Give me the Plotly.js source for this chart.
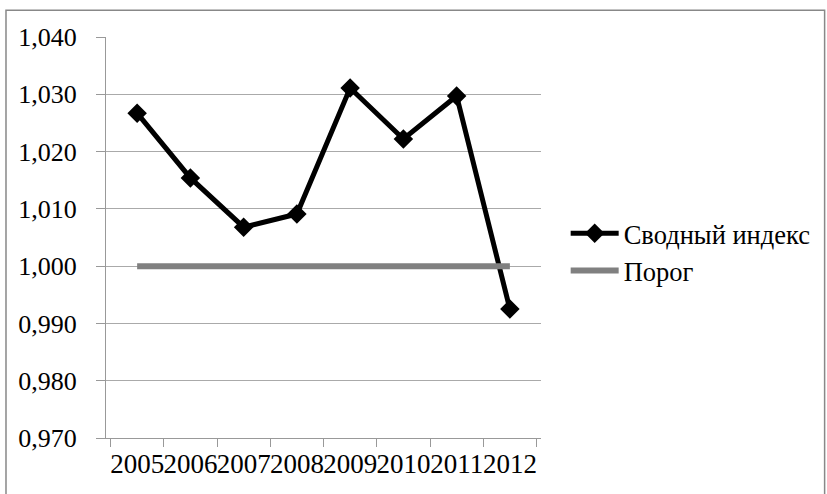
<!DOCTYPE html>
<html><head><meta charset="utf-8">
<script src="https://cdn.plot.ly/plotly-3.0.1.min.js"></script>
<style>body{margin:0;background:#fff}#c{width:827px;height:494px}</style>
</head><body><div id="c"></div>
<script>
const years = ['2005','2006','2007','2008','2009','2010','2011','2012'];
const indexValues = [1.0267, 1.0154, 1.0068, 1.0091, 1.0311, 1.0222, 1.0297, 0.9925];
const thresholdValues = [1.000, 1.000, 1.000, 1.000, 1.000, 1.000, 1.000, 1.000];
const seriesNames = ['Сводный индекс', 'Порог'];

const font = {family: '"Liberation Serif", "Times New Roman", serif', color: '#000'};
const traces = [
  {x: years, y: indexValues, name: seriesNames[0], type: 'scatter', mode: 'lines+markers',
   line: {color: '#000', width: 5}, marker: {symbol: 'diamond', size: 15, color: '#000'}},
  {x: years, y: thresholdValues, name: seriesNames[1], type: 'scatter', mode: 'lines',
   line: {color: '#808080', width: 6}}
];
const layout = {
  width: 827, height: 494,
  margin: {l: 106, r: 286, t: 37, b: 56},
  paper_bgcolor: '#fff', plot_bgcolor: '#fff',
  separators: ', ',
  font: Object.assign({size: 26}, font),
  showlegend: true,
  legend: {xref: 'container', yref: 'container', x: 0.684, y: 0.49, xanchor: 'left', yanchor: 'middle', itemwidth: 48,
           font: Object.assign({size: 26.5}, font), tracegroupgap: 0, bgcolor: 'rgba(0,0,0,0)'},
  xaxis: {type: 'category', showgrid: false, showline: true, linecolor: '#999', linewidth: 1,
          ticks: 'outside', tickson: 'boundaries', ticklen: 8, tickcolor: '#999', tickangle: 0,
          tickfont: Object.assign({size: 27}, font), ticklabelstandoff: 2, fixedrange: true},
  yaxis: {range: [0.970, 1.040], dtick: 0.01, tick0: 0.97, tickformat: '.3f',
          showgrid: true, gridcolor: '#aaa', gridwidth: 1, zeroline: false,
          showline: true, linecolor: '#999', linewidth: 1,
          ticks: 'outside', ticklen: 9, tickcolor: '#999',
          tickfont: Object.assign({size: 26}, font), ticklabelstandoff: 14, fixedrange: true},
  shapes: [{type: 'rect', xref: 'paper', yref: 'paper',
            x0: -0.2299, x1: 1.652, y0: -0.2, y1: 1.067,
            line: {color: '#888', width: 1.5}, fillcolor: 'rgba(0,0,0,0)', layer: 'below'}]
};
Plotly.newPlot('c', traces, layout, {displayModeBar: false, staticPlot: true});
</script></body></html>
